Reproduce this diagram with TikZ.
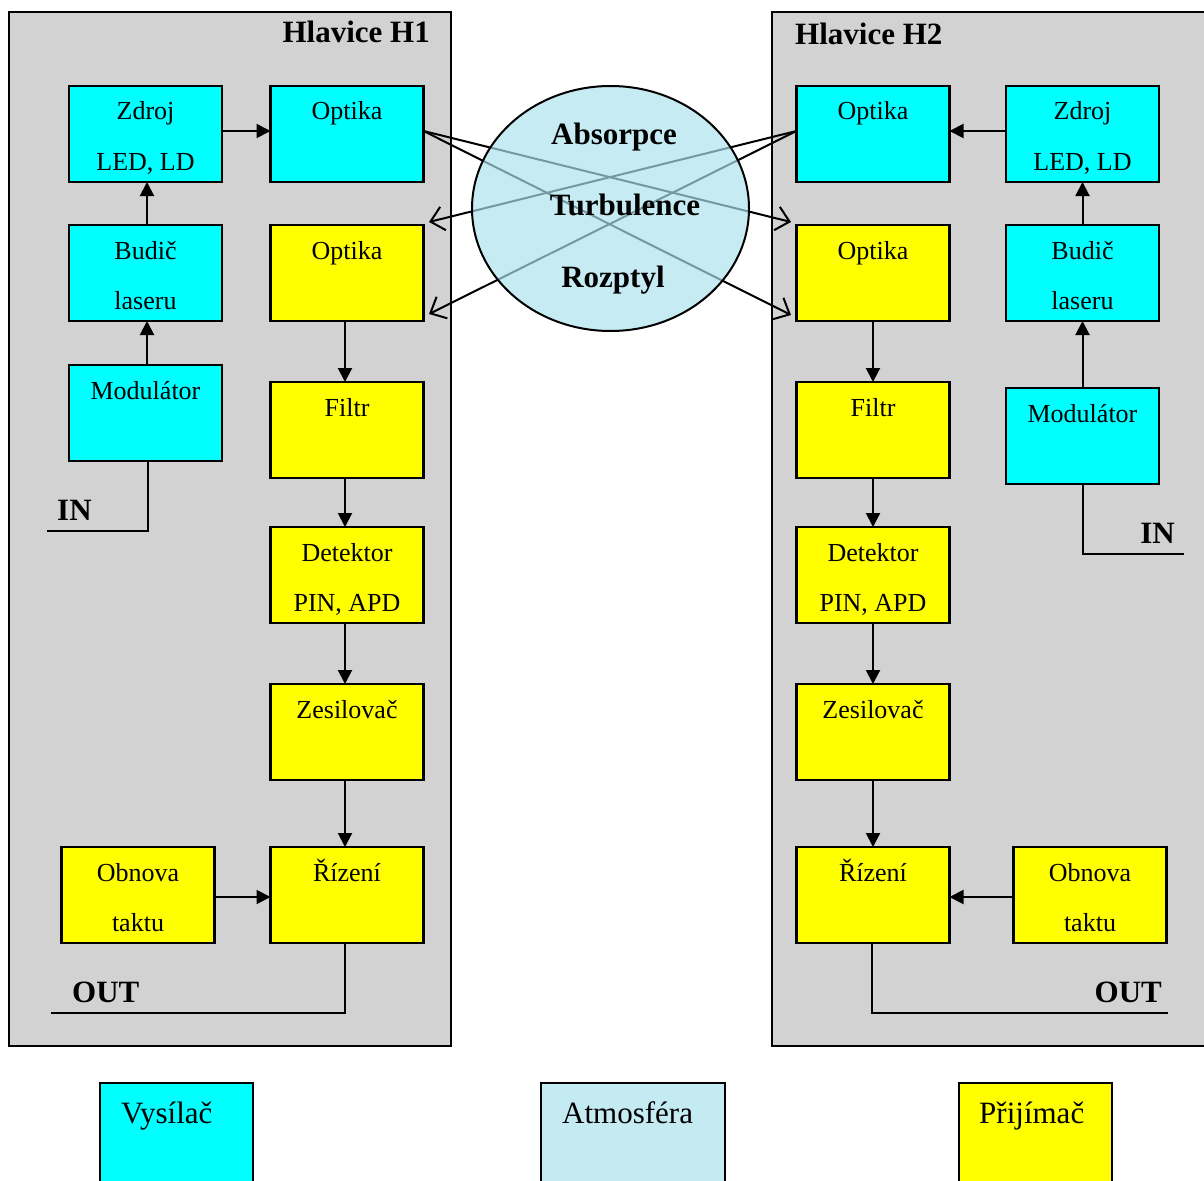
\documentclass[tikz,border=0pt]{standalone}
\usepackage{fontspec}
\setmainfont{Liberation Serif}
\usetikzlibrary{shapes.geometric,arrows.meta,calc}
\definecolor{txc}{RGB}{0,255,255}
\definecolor{rxc}{RGB}{255,255,0}
\definecolor{panelc}{RGB}{210,210,210}
\definecolor{atmc}{RGB}{196,235,242}
\definecolor{atmd}{RGB}{172,226,236}
\newcommand\boxfont{\fontsize{26}{30}\selectfont}
\newcommand\boldfont{\fontsize{31}{36}\selectfont\bfseries}
\newcommand\legfont{\fontsize{31}{36}\selectfont}
\newcommand\blkA[5]{% style, name, cx, cy, line1
  \node[#1] (#2) at (#3,#4) {};
  \node[boxlbl] (#2-a) at ([yshift=-34pt]#2.north) {#5};
}
\newcommand\blkB[6]{% style, name, cx, cy, line1, line2
  \node[#1] (#2) at (#3,#4) {};
  \node[boxlbl] (#2-a) at ([yshift=-34pt]#2.north) {#5};
  \node[boxlbl] (#2-b) at ([yshift=-84pt]#2.north) {#6};
}
\begin{document}
\begin{tikzpicture}[x=1pt,y=-1pt,
  basebox/.style={draw, line width=2.2pt, minimum width=153pt, minimum height=96pt, inner sep=0pt, outer sep=0pt},
  txbox/.style={basebox, fill=txc},
  rxbox/.style={basebox, fill=rxc},
  boxlbl/.style={anchor=base, inner sep=0pt, font=\boxfont},
  boldlbl/.style={inner sep=0pt, font=\boldfont},
  leglbl/.style={anchor=base west, inner sep=0pt, font=\legfont},
  panel/.style={draw, line width=2pt, fill=panelc, inner sep=0pt, outer sep=0pt},
  arr/.style={-{Triangle[length=14pt,width=14pt]}, line width=2pt},
  barb/.style={-{Straight Barb[length=13pt,width=24pt]}, line width=2pt},
  wire/.style={line width=2pt}]
\useasboundingbox (0,0) rectangle (1204,1180);
\clip (0,0) rectangle (1204,1180);
\fill[white] (0,0) rectangle (1204,1180);

% panels
\node[panel, minimum width=442pt, minimum height=1034pt] (p1) at (230,529) {};
\node[panel, minimum width=440pt, minimum height=1034pt] (p2) at (992,529) {};
\node[boldlbl, anchor=base east] (h1) at (430,43) {Hlavice H1};
\node[boldlbl, anchor=base west] (h2) at (795,45) {Hlavice H2};

% boxes H1
\blkB{txbox}{zdroj1}{145.5}{134}{Zdroj}{LED, LD}
\blkA{txbox}{opt1c}{347}{134}{Optika}
\blkB{txbox}{budic1}{145.5}{273}{Budič}{laseru}
\blkA{rxbox}{opt1y}{347}{273}{Optika}
\blkA{txbox}{mod1}{145.5}{413}{Modulátor}
\blkA{rxbox}{filtr1}{347}{430}{Filtr}
\blkB{rxbox}{det1}{347}{575}{Detektor}{PIN, APD}
\blkA{rxbox}{zes1}{347}{732}{Zesilovač}
\blkB{rxbox}{obn1}{138}{895}{Obnova}{taktu}
\blkA{rxbox}{riz1}{347}{895}{Řízení}

% boxes H2
\blkA{txbox}{opt2c}{873}{134}{Optika}
\blkB{txbox}{zdroj2}{1082.5}{134}{Zdroj}{LED, LD}
\blkA{rxbox}{opt2y}{873}{273}{Optika}
\blkB{txbox}{budic2}{1082.5}{273}{Budič}{laseru}
\blkA{rxbox}{filtr2}{873}{430}{Filtr}
\blkA{txbox}{mod2}{1082.5}{436}{Modulátor}
\blkB{rxbox}{det2}{873}{575}{Detektor}{PIN, APD}
\blkA{rxbox}{zes2}{873}{732}{Zesilovač}
\blkA{rxbox}{riz2}{873}{895}{Řízení}
\blkB{rxbox}{obn2}{1090}{895}{Obnova}{taktu}

% free ends
\coordinate (a1) at (791,222);
\coordinate (a2) at (791,315);
\coordinate (b1) at (429,222);
\coordinate (b2) at (429,314);
\coordinate (in1) at (47,531);
\coordinate (in2) at (1184,554);
\coordinate (out1) at (51,1013);
\coordinate (out2) at (1168,1013);

% crossing beams
\draw[barb] ([yshift=3pt]opt1c.east) -- (a1);
\draw[barb] ([yshift=3pt]opt1c.east) -- (a2);
\draw[barb] ([yshift=3pt]opt2c.west) -- (b1);
\draw[barb] ([yshift=3pt]opt2c.west) -- (b2);

% atmosphere
\node[ellipse, draw, line width=2pt, fill=atmd, fill opacity=0.68, text opacity=1,
      minimum width=277pt, minimum height=245pt, inner sep=0pt] (atm) at (610.5,208.5) {};
\node[boldlbl, anchor=base] (abs) at (614,144) {Absorpce};
\node[boldlbl, anchor=base] (tur) at (625,215) {Turbulence};
\node[boldlbl, anchor=base] (roz) at (613,287) {Rozptyl};

% arrows H1
\draw[arr] ([yshift=3pt]zdroj1.east) -- ([yshift=3pt]opt1c.west);
\draw[arr] ([xshift=1.5pt]budic1.north) -- ([xshift=1.5pt]zdroj1.south);
\draw[arr] ([xshift=1.5pt]mod1.north) -- ([xshift=1.5pt]budic1.south);
\draw[arr] ([xshift=-2pt]opt1y.south) -- ([xshift=-2pt]filtr1.north);
\draw[arr] ([xshift=-2pt]filtr1.south) -- ([xshift=-2pt]det1.north);
\draw[arr] ([xshift=-2pt]det1.south) -- ([xshift=-2pt]zes1.north);
\draw[arr] ([xshift=-2pt]zes1.south) -- ([xshift=-2pt]riz1.north);
\draw[arr] ([yshift=-2pt]obn1.east) -- ([yshift=-2pt]riz1.west);
\draw[wire] ([xshift=2.5pt]mod1.south) |- (in1);
\draw[wire] ([xshift=-2pt]riz1.south) |- (out1);
\node[boldlbl, anchor=base west] (inl1) at (57,520) {IN};
\node[boldlbl, anchor=base west] (outl1) at (72,1002) {OUT};

% arrows H2
\draw[arr] ([yshift=3pt]zdroj2.west) -- ([yshift=3pt]opt2c.east);
\draw[arr] (budic2.north) -- (zdroj2.south);
\draw[arr] (mod2.north) -- (budic2.south);
\draw[arr] (opt2y.south) -- (filtr2.north);
\draw[arr] (filtr2.south) -- (det2.north);
\draw[arr] (det2.south) -- (zes2.north);
\draw[arr] (zes2.south) -- (riz2.north);
\draw[arr] ([yshift=-2pt]obn2.west) -- ([yshift=-2pt]riz2.east);
\draw[wire] (mod2.south) |- (in2);
\draw[wire] ([xshift=-1pt]riz2.south) |- (out2);
\node[boldlbl, anchor=base east] (inl2) at (1175,543) {IN};
\node[boldlbl, anchor=base east] (outl2) at (1162,1002) {OUT};

% legend
\node[txbox, minimum height=140pt] (legtx) at (176.5,1153) {};
\node[leglbl] (legtxl) at (121,1123) {Vysílač};
\node[basebox, fill=atmc, minimum width=184pt, minimum height=140pt] (legatm) at (633,1153) {};
\node[leglbl] (legatml) at (562,1123) {Atmosféra};
\node[rxbox, minimum height=140pt] (legrx) at (1035.5,1153) {};
\node[leglbl] (legrxl) at (979,1123) {Přijímač};
\end{tikzpicture}
\end{document}
